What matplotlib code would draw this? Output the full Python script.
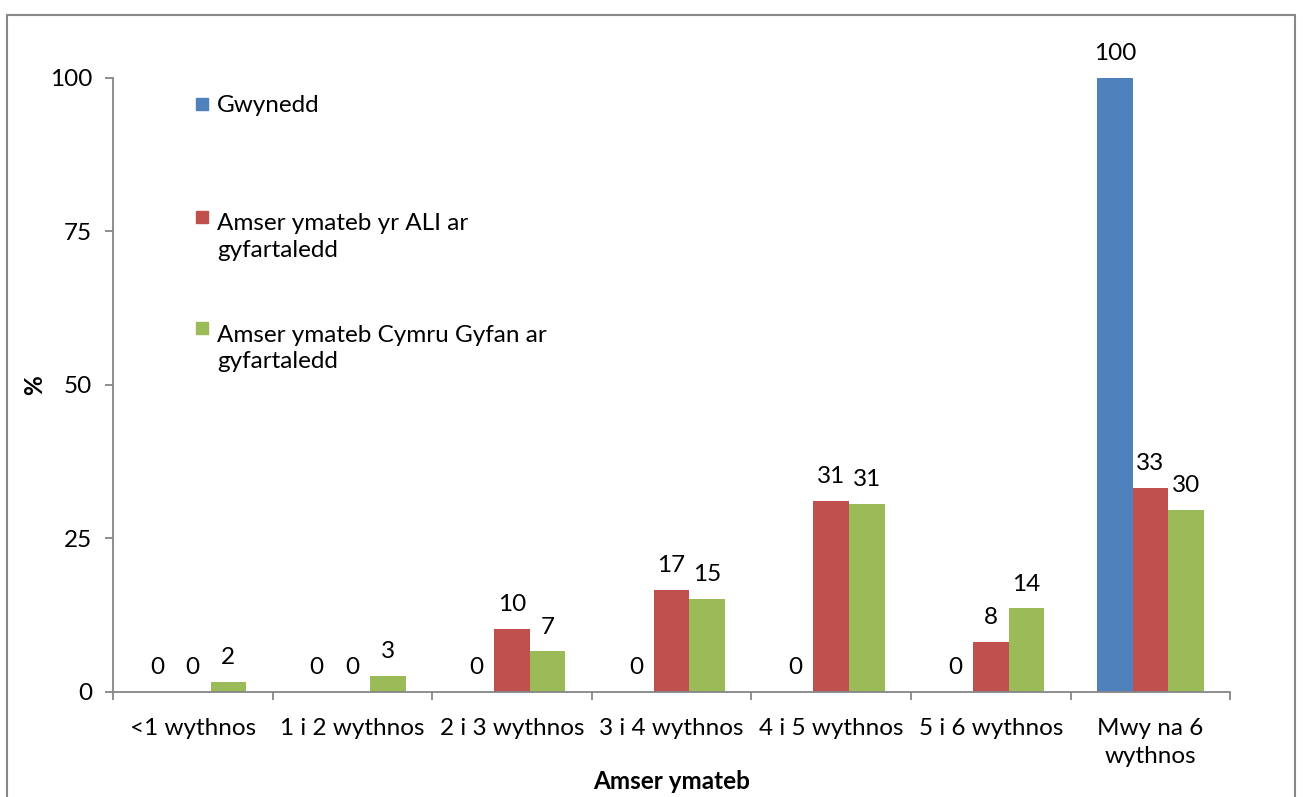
import numpy as np
import matplotlib
matplotlib.use("Agg")
from matplotlib import pyplot as plt
from matplotlib.patches import Rectangle

plt.rcParams['font.family'] = ['Lato', 'DejaVu Sans']

categories = ["<1 wythnos", "1 i 2 wythnos", "2 i 3 wythnos", "3 i 4 wythnos",
              "4 i 5 wythnos", "5 i 6 wythnos", "Mwy na 6\nwythnos"]
series_names = ["Gwynedd", "Amser ymateb yr ALI ar\ngyfartaledd",
                "Amser ymateb Cymru Gyfan ar\ngyfartaledd"]
gwynedd = [0, 0, 0, 0, 0, 0, 100]
ali = [0, 0, 10.3, 16.6, 31.1, 8.1, 33.2]
cymru = [1.7, 2.6, 6.6, 15.1, 30.6, 13.6, 29.7]
colors = ["#4f81bd", "#c0504d", "#9bbb59"]
yticks = [0, 25, 50, 75, 100]

fs = 17.5
fig = plt.figure(figsize=(13.03, 7.97), dpi=100)
ax = fig.add_axes([0.0867, 0.1318, 0.8574, 0.7704])

x = np.arange(len(categories))
w = 0.223
axis_col = "#868686"
for i, (vals, col) in enumerate(zip([gwynedd, ali, cymru], colors)):
    pos = x + (i - 1) * w
    ax.bar(pos, vals, width=w, color=col, edgecolor="none", zorder=2)
    for p, v in zip(pos, vals):
        ax.annotate(f"{v:.0f}", (p, v), xytext=(0, 10), textcoords="offset points",
                    ha="center", va="bottom", fontsize=fs, color="black")

ax.set_xlim(-0.5, len(categories) - 0.5)
ax.set_ylim(0, 100)
ax.set_yticks(yticks)
ax.set_xticks(x)
ax.set_xticklabels(categories, fontsize=fs, linespacing=1.4)
ax.set_xticks(np.arange(-0.5, len(categories)), minor=True)
ax.tick_params(axis="x", which="major", length=0, pad=19)
ax.tick_params(axis="x", which="minor", length=6, color=axis_col, width=1.3)
ax.tick_params(axis="y", length=6, color=axis_col, width=1.3, labelsize=fs, pad=9)
for s in ["top", "right"]:
    ax.spines[s].set_visible(False)
for s in ["left", "bottom"]:
    ax.spines[s].set_color(axis_col)
    ax.spines[s].set_linewidth(1.3)

ax.set_xlabel("Amser ymateb", fontsize=fs, fontweight="bold", labelpad=2)
ax.set_ylabel("%", fontsize=fs, fontweight="bold")
ax.yaxis.set_label_coords(-0.0595, 0.5)

# legend drawn by hand to match spacing
lsp = 1.35
line_h = fs * lsp / 72 * 100 / 614
leg_y = [0.9577, 0.7736, 0.5928]
for name, col, ly in zip(series_names, colors, leg_y):
    ax.add_patch(Rectangle((0.074, ly - 0.0098), 0.0107, 0.0196, transform=ax.transAxes,
                           color=col, clip_on=False))
    nl = name.count("\n")
    ax.text(0.093, ly - 0.0125 - nl * line_h, name, transform=ax.transAxes, fontsize=fs,
            va="baseline", ha="left", linespacing=lsp)

fig.patches.append(Rectangle((7 / 1303, -0.05), 1288 / 1303, 1 - 15 / 797 + 0.05,
                             transform=fig.transFigure, fill=False,
                             edgecolor="#888888", linewidth=1.5))

fig.savefig("out.png", dpi=100)
